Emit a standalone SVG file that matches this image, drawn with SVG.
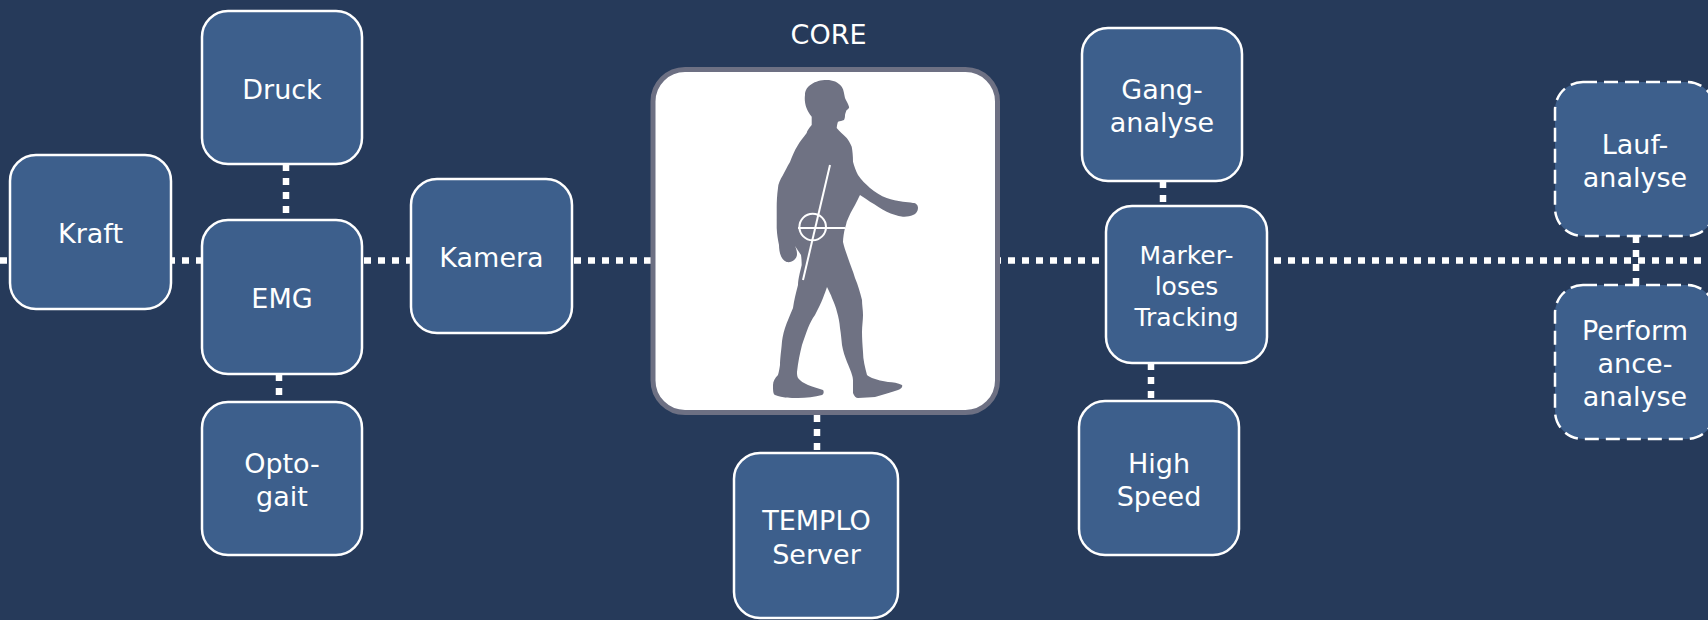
<svg xmlns="http://www.w3.org/2000/svg" width="1708" height="620" viewBox="0 0 1708 620">
<style>
.node rect{fill:#3d5f8c;stroke:#ffffff;stroke-width:2.5}
.node.dashed rect{stroke-dasharray:14 7}
.lbl{font-family:"DejaVu Sans","Verdana",sans-serif;font-size:27px;fill:#ffffff;text-anchor:middle}
.small{font-size:25px}
.conn line{stroke:#ffffff;stroke-width:6.5;stroke-dasharray:7 7;fill:none}
</style>
<rect x="0" y="0" width="1708" height="620" fill="#263a5a"/>
<g id="connectors" class="conn">
<line x1="0" y1="260.5" x2="1708" y2="260.5"/>
<line x1="286" y1="164" x2="286" y2="220"/>
<line x1="279" y1="374" x2="279" y2="402"/>
<line x1="817" y1="415" x2="817" y2="453"/>
<line x1="1163" y1="181" x2="1163" y2="206"/>
<line x1="1151" y1="363" x2="1151" y2="401"/>
<line x1="1636" y1="236" x2="1636" y2="285"/>
</g>
<g id="druck" class="node"><rect x="202" y="11" width="160" height="153" rx="26"/><text class="lbl" x="282" y="99">Druck</text></g>
<g id="kraft" class="node"><rect x="10" y="155" width="161" height="154" rx="26"/><text class="lbl" x="90.5" y="242.5">Kraft</text></g>
<g id="emg" class="node"><rect x="202" y="220" width="160" height="154" rx="26"/><text class="lbl" x="282" y="307.5">EMG</text></g>
<g id="kamera" class="node"><rect x="411" y="179" width="161" height="154" rx="26"/><text class="lbl" x="491.5" y="267">Kamera</text></g>
<g id="optogait" class="node"><rect x="202" y="402" width="160" height="153" rx="26"/><text class="lbl" x="282" y="472.5">Opto-</text><text class="lbl" x="282" y="506">gait</text></g>
<g id="core">
<text class="lbl" x="828.5" y="44">CORE</text>
<rect x="653" y="69.5" width="344.5" height="343" rx="32" fill="#ffffff" stroke="#6d7083" stroke-width="5"/>
<path fill="#6f7283" d="M826.7 80 C815 80 805 86 805 95 C804 102 806 110 811.7 116.7 L811.7 125 C809 128 807 131 806.7 133 C803 138 800 141 798 145 C794 151 792 157 790 162 C787 167 785 171 783 175 C780 180 778 184 778 188 C777 195 776.7 202 776.7 208 C776.7 215 776.7 222 776.7 228 C777 235 778 240 779 245 C779 252 781 260 786.7 262 C792 263 797 259 797 254 C797 251 796 248 795 246 L801 255 C801.5 258 801.7 262 801.7 265 C800 272 798 280 798 285 C796 293 794 300 793 308 C790 315 787 322 785 328 C783 334 782 340 781.7 345 C781 352 780 360 780 365 C779.5 368 779 372 778 375 C775 378 773 381 773 385 C773 390 773 394 775 395 C783 398 790 398 798 398 C806 398 815 397 822 395 C824 394 824 391 823 390 C818 388 812 387 808 385 C804 383 800 381 798 378 C797 376 797 374 797 372 C798 362 800 353 802 345 C804 339 806 333 808 328 C810 323 812 319 815 315 C818 309 821 303 823 298 C824.5 294 826 290 827 287 C829 291 831 295 832 298 C834 303 836 307 837 312 C838.5 317 839.5 322 840 328 C841 334 841.5 340 842 345 C843 351 845 357 847 362 C849 367 851 371 852 375 C853 378 853 380 853 382 C853 386 853 390 853 393 C854 396 856 398 858 398 C864 398 870 397 875 397 C883 395 891 392 898 390 C901 389 903 387 902 385 C898 383 893 382 888 382 C883 381 877 380 872 378 C870 377 868 376 867 375 C865 367 863 360 863 352 C862.5 345 862 338 862 332 C862 326 863 320 863 315 C863 310 862 305 862 300 C860 292 858 285 855 278 C853 271 850 264 848 258 C846 252 844 247 843 242 C843 238 844 232 845 228 C846 225 846.5 223 846.7 221.7 C849 216 852 210 855 205 C857 201 858.5 198 860 195 C863 197 866 199 870 201.7 C876 205 881 209 886.7 211.7 C892 214 897 216 903 216.7 C907 217 910 216 913 215 C916 214 918 211 918 208 C918 205 916 203 913 203 C910 202 906 202 903 201.7 C897 201 892 200 886.7 198 C881 196 875 192 870 188 C866 184 861 180 858 175 C856 171 854 166 853 161.7 C853 156 852.5 151 851.7 146.7 C850 143 848.5 140 846.7 138 C843 134 839 131 836.7 128 C837 125 837.5 123 838 121.7 C840 121 842 121 844 120 C845 118 845 116 845 115 C845.5 113 846 111 846.7 110 C848 109 849.5 108 849 106.7 C848 103 846 101 845 98 C844 94 844 90 841.7 86.7 C838 82 833 80 826.7 80 Z"/>
<g stroke="#ffffff" stroke-width="2" fill="none">
<line x1="830" y1="165" x2="803" y2="280"/>
<circle cx="812.7" cy="227" r="13.3"/>
<line x1="798" y1="228" x2="845" y2="228"/>
</g>
</g>
<g id="templo" class="node"><rect x="734" y="453" width="164" height="165" rx="26"/><text class="lbl" x="816.5" y="530">TEMPLO</text><text class="lbl" x="816.5" y="563.5">Server</text></g>
<g id="gang" class="node"><rect x="1082" y="28" width="160" height="153" rx="26"/><text class="lbl" x="1162" y="99">Gang-</text><text class="lbl" x="1162" y="132">analyse</text></g>
<g id="marker" class="node"><rect x="1106" y="206" width="161" height="157" rx="26"/><text class="lbl small" x="1186.5" y="264">Marker-</text><text class="lbl small" x="1186.5" y="295">loses</text><text class="lbl small" x="1186.5" y="326">Tracking</text></g>
<g id="highspeed" class="node"><rect x="1079" y="401" width="160" height="154" rx="26"/><text class="lbl" x="1159" y="472.5">High</text><text class="lbl" x="1159" y="506">Speed</text></g>
<g id="lauf" class="node dashed"><rect x="1555" y="82" width="160" height="154" rx="28"/><text class="lbl" x="1635" y="154">Lauf-</text><text class="lbl" x="1635" y="187">analyse</text></g>
<g id="performance" class="node dashed"><rect x="1555" y="285" width="160" height="154" rx="28"/><text class="lbl" x="1635" y="340">Perform</text><text class="lbl" x="1635" y="373">ance-</text><text class="lbl" x="1635" y="406">analyse</text></g>
</svg>
